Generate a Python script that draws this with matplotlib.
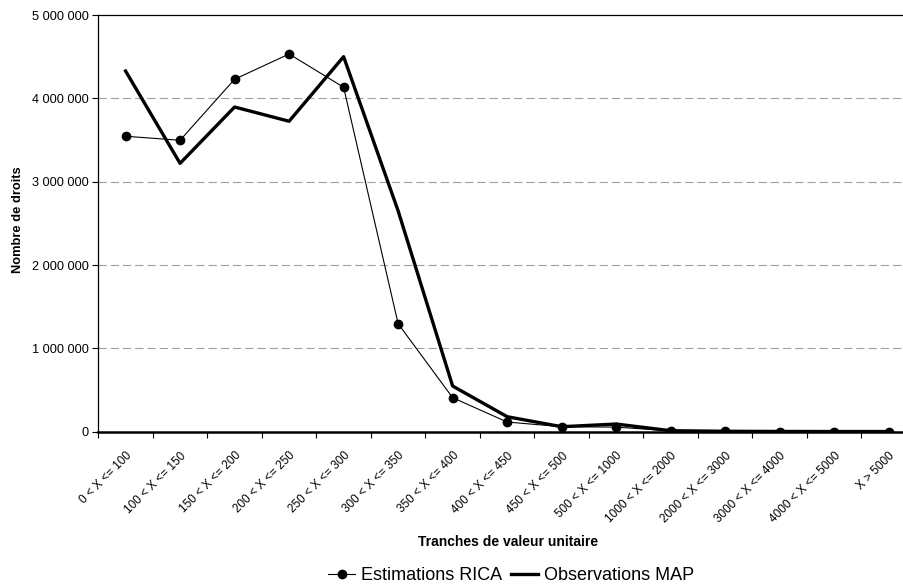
import matplotlib
matplotlib.use("Agg")
import matplotlib.pyplot as plt
from matplotlib.ticker import FuncFormatter, FixedLocator
from matplotlib.transforms import ScaledTranslation
import numpy as np

plt.rcParams["font.family"] = ["Liberation Sans", "DejaVu Sans"]

categories = [
    "0 < X <= 100", "100 < X <= 150", "150 < X <= 200", "200 < X <= 250",
    "250 < X <= 300", "300 < X <= 350", "350 < X <= 400", "400 < X <= 450",
    "450 < X <= 500", "500 < X <= 1000", "1000 < X <= 2000", "2000 < X <= 3000",
    "3000 < X <= 4000", "4000 < X <= 5000", "X > 5000",
]
rica = [3545000, 3497000, 4229000, 4532000, 4133000, 1296000, 408000, 116000,
        60000, 55000, 10000, 3000, 2000, 1000, 1000]
map_obs = [4328000, 3220000, 3896000, 3725000, 4500000, 2650000, 548000, 180000,
           60000, 92000, 12000, 5000, 3000, 2000, 2000]
y_ticks = [0, 1000000, 2000000, 3000000, 4000000, 5000000]

fig = plt.figure(figsize=(9.04, 5.84), dpi=100)
W, H = 904, 584
left, right, top, bottom = 98.3, 916.0, 15.0, 431.7
ax = fig.add_axes([left / W, 1 - bottom / H, (right - left) / W, (bottom - top) / H])

x = np.arange(len(categories))
ax.plot(x, rica, color="black", lw=0.8, marker="o", ms=6, label="Estimations RICA", zorder=3)
ax.plot(x, map_obs, color="black", lw=2.4, label="Observations MAP", zorder=2)

ax.set_xlim(-0.5, len(categories) - 0.5)
ax.set_ylim(0, 5000000)

ax.yaxis.set_major_locator(FixedLocator(y_ticks))
ax.yaxis.set_major_formatter(FuncFormatter(lambda v, p: f"{int(v):,}".replace(",", " ")))
for yv in y_ticks[1:-1]:
    ax.axhline(yv, color="#a0a0a0", lw=0.8, dashes=(7.5, 3.5), zorder=1)

ax.set_xticks(x)
ax.set_xticklabels(categories, rotation=45, ha="right", va="top", rotation_mode="anchor",
                   fontsize=8.5)
shift = ScaledTranslation(-4.5 / 100, 0, fig.dpi_scale_trans)
for lbl in ax.get_xticklabels():
    lbl.set_transform(lbl.get_transform() + shift)
ax.set_xticks(np.arange(len(categories) + 1) - 0.5, minor=True)
ax.tick_params(axis="x", which="major", length=0, pad=13)
ax.tick_params(axis="x", which="minor", length=4, width=0.8, direction="out")
ax.tick_params(axis="y", length=4, width=0.8, direction="out", labelsize=9.2, pad=3)

for s in ["left", "top"]:
    ax.spines[s].set_linewidth(0.9)
ax.spines["bottom"].set_linewidth(1.8)
ax.spines["right"].set_visible(False)

fig.text(18 / W, 1 - 219.5 / H, "Nombre de droits", rotation=90, fontsize=9.3, fontweight="bold",
         ha="center", va="center")
fig.text(508 / W, 1 - 542 / H, "Tranches de valeur unitaire", fontsize=10, fontweight="bold",
         ha="center", va="center")

fig.legend(loc="center", bbox_to_anchor=(511 / W, 1 - 576 / H), ncol=2, frameon=False,
           fontsize=13, handlelength=1.5, handletextpad=0.3, columnspacing=0.5,
           markerscale=1.0, borderpad=0, borderaxespad=0)

fig.savefig("out.png", dpi=100)
